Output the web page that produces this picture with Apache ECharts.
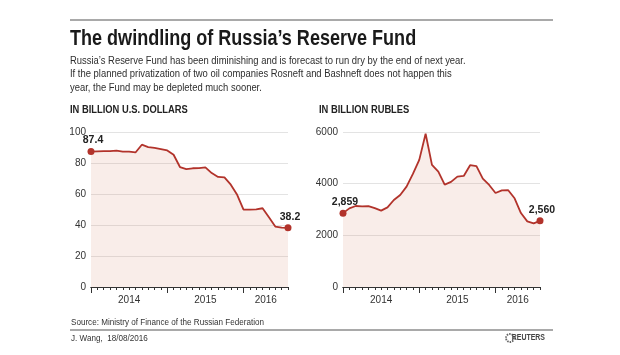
<!DOCTYPE html>
<html>
<head>
<meta charset="utf-8">
<script src="https://cdn.jsdelivr.net/npm/echarts@6/dist/echarts.min.js"></script>
<style>
html,body{margin:0;padding:0;background:#fff;}
#chart{width:620px;height:355px;}
</style>
</head>
<body>
<div id="chart"></div>
<script>
// ---- data (monthly, Jan 2014 – Aug 2016) ----
const months = ['2014-01','2014-02','2014-03','2014-04','2014-05','2014-06','2014-07','2014-08','2014-09','2014-10','2014-11','2014-12',
                '2015-01','2015-02','2015-03','2015-04','2015-05','2015-06','2015-07','2015-08','2015-09','2015-10','2015-11','2015-12',
                '2016-01','2016-02','2016-03','2016-04','2016-05','2016-06','2016-07','2016-08'];
const usdValues = [87.4, 87.5, 87.6, 87.7, 88.0, 87.3, 87.4, 86.8, 91.8, 90.3, 89.7, 89.0,
                   88.1, 85.3, 77.4, 76.1, 76.6, 76.7, 77.2, 73.5, 71.0, 70.7, 66.0, 59.5,
                   49.9, 49.9, 50.1, 50.8, 45.0, 39.0, 38.3, 38.2];
const rubValues = [2859, 3044, 3135, 3120, 3130, 3050, 2955, 3083, 3368, 3562, 3886, 4378,
                   4922, 5933, 4728, 4469, 3964, 4067, 4275, 4300, 4715, 4680, 4197, 3950,
                   3640, 3743, 3745, 3433, 2863, 2539, 2461, 2560];
const yearLabels = ['2014', '2015', '2016'];
const usdTicks = [0, 20, 40, 60, 80, 100];
const rubTicks = [0, 2000, 4000, 6000];
const firstLastUsd = ['87.4', '38.2'];
const firstLastRub = ['2,859', '2,560'];

const titleText = 'The dwindling of Russia’s Reserve Fund';
const subtitleLines = [
  'Russia’s Reserve Fund has been diminishing and is forecast to run dry by the end of next year.',
  'If the planned privatization of two oil companies Rosneft and Bashneft does not happen this',
  'year, the Fund may be depleted much sooner.'
];
const leftHeading = 'IN BILLION U.S. DOLLARS';
const rightHeading = 'IN BILLION RUBLES';
const sourceText = 'Source: Ministry of Finance of the Russian Federation';
const creditText = 'J. Wang,  18/08/2016';
const brandText = 'REUTERS';

// ---- styling ----
const REG = "'Liberation Sans', Arial, sans-serif";
const NARROW_SCALE = 0.82;   // emulate a condensed face
const LINE = '#b2332b';
const FILL = 'rgba(215,125,100,0.2)';

const n = months.length;
const monthIdx = months.map((m, i) => i);
const yearMid = yearLabels.map((y, j) => (12 * j + Math.min(12 * j + 12, n - 1)) / 2);

function buildData(vals, labels) {
  return vals.map((v, i) => {
    const isEnd = (i === 0 || i === vals.length - 1);
    return {
      value: [monthIdx[i], v],
      symbol: isEnd ? 'circle' : 'none',
      symbolSize: 7,
      label: { show: isEnd, formatter: isEnd ? (i === 0 ? labels[0] : labels[1]) : '' }
    };
  });
}

function xAxesFor(gridIndex) {
  return [
    {
      type: 'value', gridIndex, position: 'bottom', min: 0, max: n - 1, interval: 1,
      axisLine: { show: true, onZero: false, lineStyle: { color: '#333', width: 1 } },
      axisTick: { show: true, length: 3, lineStyle: { color: '#333', width: 1 } },
      axisLabel: { show: false },
      splitLine: { show: false }
    },
    {
      type: 'value', gridIndex, position: 'bottom', min: 0, max: n - 1, interval: 12,
      axisLine: { show: true, onZero: false, lineStyle: { color: '#333', width: 1 } },
      axisTick: { show: true, length: 6, customValues: [0, 12, 24], lineStyle: { color: '#333', width: 1 } },
      axisLabel: {
        show: true, customValues: yearMid, margin: 8,
        fontFamily: REG, fontSize: 10, color: '#333',
        formatter: v => yearLabels[Math.floor(v / 12)]
      },
      splitLine: { show: false }
    }
  ];
}

function yAxisFor(gridIndex, ticks) {
  return {
    type: 'value', gridIndex,
    min: ticks[0], max: ticks[ticks.length - 1], interval: ticks[1] - ticks[0],
    axisLine: { show: false }, axisTick: { show: false },
    axisLabel: { fontFamily: REG, fontSize: 10, color: '#333', margin: 5, formatter: v => String(v) },
    splitLine: { show: true, lineStyle: { color: '#e3e3e3', width: 1 } }
  };
}

function lineSeries(xIdx, yIdx, vals, labels) {
  return {
    type: 'line', xAxisIndex: xIdx, yAxisIndex: yIdx,
    data: buildData(vals, labels),
    showSymbol: true,
    lineStyle: { color: LINE, width: 1.8 },
    itemStyle: { color: LINE },
    areaStyle: { color: FILL },
    label: { position: 'top', distance: 2, offset: [2, 0], fontFamily: REG, fontWeight: 'bold', fontSize: 10.5, color: '#222' },
    emphasis: { disabled: true }
  };
}

const textEls = [];
function txt(x, y, text, size, weight, color, align) {
  textEls.push({
    type: 'text', x, y, scaleX: NARROW_SCALE, silent: true,
    style: { text, fontSize: size, fontWeight: weight || 'normal', fill: color || '#333',
             fontFamily: REG, textAlign: align || 'left', textVerticalAlign: 'middle' }
  });
}
txt(70, 39, titleText, 22, 'bold', '#1a1a1a');
subtitleLines.forEach((l, i) => txt(70, 61 + i * 13.3, l, 11.5, 'normal', '#2e2e2e'));
txt(70, 110, leftHeading, 11.4, 'bold', '#222');
txt(319, 110, rightHeading, 11.4, 'bold', '#222');
txt(71, 322, sourceText, 9.9, 'normal', '#333');
txt(71, 338, creditText, 9.9, 'normal', '#333');
txt(545, 338, brandText, 8.5, 'bold', '#444', 'right');

const graphics = [
  { type: 'line', silent: true, shape: { x1: 70, y1: 20, x2: 553, y2: 20 }, style: { stroke: '#8c8c8c', lineWidth: 1.5 } },
  { type: 'line', silent: true, shape: { x1: 70, y1: 330, x2: 553, y2: 330 }, style: { stroke: '#8c8c8c', lineWidth: 1.5 } },
  { type: 'circle', silent: true, shape: { cx: 510, cy: 338, r: 4 }, style: { fill: '#fff', stroke: '#666', lineWidth: 1.8, lineDash: [1.5, 1] } }
].concat(textEls);

const chart = echarts.init(document.getElementById('chart'), null, { renderer: 'canvas' });
chart.setOption({
  animation: false,
  backgroundColor: '#fff',
  grid: [
    { left: 91, top: 132, width: 197, height: 155 },
    { left: 343, top: 132, width: 197, height: 155 }
  ],
  xAxis: xAxesFor(0).concat(xAxesFor(1)),
  yAxis: [yAxisFor(0, usdTicks), yAxisFor(1, rubTicks)],
  series: [
    lineSeries(0, 0, usdValues, firstLastUsd),
    lineSeries(2, 1, rubValues, firstLastRub)
  ],
  graphic: graphics
});
</script>
</body>
</html>
